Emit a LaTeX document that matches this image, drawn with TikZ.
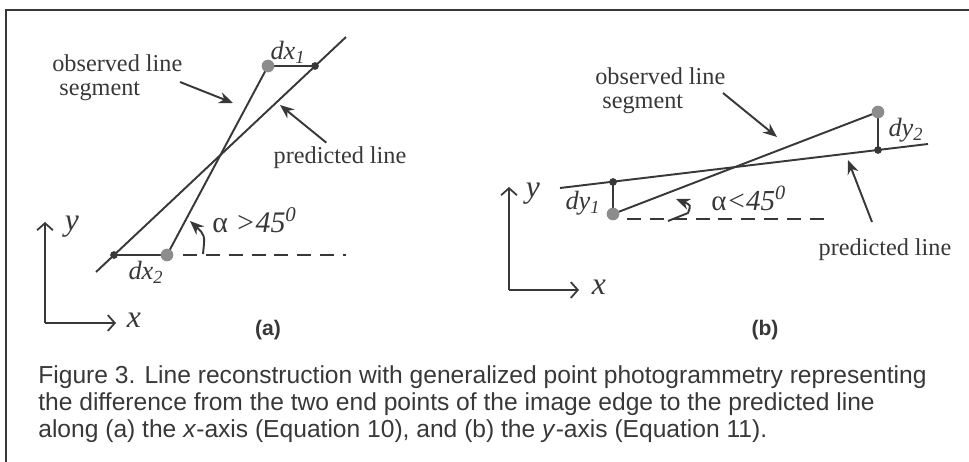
\documentclass[tikz,border=0pt]{standalone}
\usepackage{fontspec}
\setmainfont{Liberation Serif}
\setsansfont{Liberation Sans}
\usetikzlibrary{arrows.meta}
\definecolor{ink}{gray}{0.22}
\definecolor{dotgray}{gray}{0.55}

\begin{document}
\begin{tikzpicture}[
  x=0.02cm, y=-0.02cm,
  every node/.style={inner sep=0pt, text=ink},
  ln/.style={draw=ink, line width=1.1pt},
  arrow/.style={-{Stealth[length=8pt,width=6.5pt]}, draw=ink, line width=1.1pt},
  axis/.style={-{Straight Barb[length=4pt,width=9pt]}, draw=ink, line width=1pt},
  lbl/.style={font=\fontsize{13.8}{15.5}\selectfont, align=left},
  mlbl/.style={font=\fontsize{15}{17}\selectfont\itshape},
  axlbl/.style={font=\fontsize{18}{20}\selectfont\itshape},
  sub/.style={font=\bfseries\sffamily\fontsize{12}{14}\selectfont}
]
\useasboundingbox (0,0) rectangle (969,462);
% frame
\draw[ink, line width=1.2pt] (969,10) -- (6,10) -- (6,462);

% (a) along x
\coordinate (pa1) at (96,272);
\coordinate (pa2) at (346,37);
\coordinate (oa1) at (167,255);
\coordinate (oa2) at (268,66);
\coordinate (ka1) at (315,66);
\coordinate (ka2) at (114,255);
\draw[ln] (pa1) -- (pa2);
\draw[ln] (oa1) -- (oa2);
\draw[ln] (oa2) -- (ka1);
\draw[ln] (ka2) -- (oa1);
\draw[ink, line width=1.1pt, dashed, dash pattern=on 8pt off 5pt] (183,255) -- (346,255);
\fill[ink] (ka1) circle (2.2pt) (ka2) circle (2.2pt);
\fill[dotgray] (oa1) circle (3.6pt) (oa2) circle (3.6pt);
\node[mlbl] (dxa) at (288,52) {dx\textsubscript{1}};
\node[mlbl] (dxb) at (146,272) {dx\textsubscript{2}};
\node[lbl, anchor=west] (obsa) at (52,78) {observed line\\[-2pt]\hspace{4pt}segment};
\node[lbl] (preda) at (340,158) {predicted line};
\draw[arrow] (180,82) -- (233,103);
\draw[arrow] (preda.north west) ++(53,-4) -- (280,105);
\draw[arrow] (203,254) .. controls (205,235) .. (190,221);
\node[mlbl, font=\fontsize{17}{19}\selectfont\itshape, anchor=west] (anga) at (212,220) {\upshape α \itshape >45\textsuperscript{0}};
\coordinate (axa) at (45,323);
\draw[axis] (axa) -- (45,222);
\draw[axis] (axa) -- (116,323);
\node[axlbl] (ya) at (72,227) {y};
\node[axlbl] (xa) at (134,320) {x};
\node[sub] (suba) at (268,330) {(a)};

% (b) along y
\coordinate (pb1) at (560,188);
\coordinate (pb2) at (928,144);
\coordinate (ob1) at (613,214);
\coordinate (ob2) at (878,112);
\coordinate (kb1) at (613,182);
\coordinate (kb2) at (878,150);
\draw[ln] (pb1) -- (pb2);
\draw[ln] (ob1) -- (ob2);
\draw[ln] (kb1) -- (ob1);
\draw[ln] (ob2) -- (kb2);
\draw[ink, line width=1.1pt, dashed, dash pattern=on 8pt off 5pt] (627,219) -- (832,219);
\fill[ink] (kb1) circle (2.2pt) (kb2) circle (2.2pt);
\fill[dotgray] (ob1) circle (3.6pt) (ob2) circle (3.6pt);
\node[mlbl] (dya) at (583,203) {dy\textsubscript{1}};
\node[mlbl] (dyb) at (906,130) {dy\textsubscript{2}};
\node[lbl, anchor=west] (obsb) at (595,91) {observed line\\[-2pt]\hspace{4pt}segment};
\node[lbl] (predb) at (885,250) {predicted line};
\draw[arrow] (723,93) -- (777,137);
\draw[arrow] (872,222) -- (848,160);
\draw[arrow] (668,221) -- (688,213) .. controls (691,205) .. (676,199);
\node[mlbl, font=\fontsize{16.5}{19}\selectfont\itshape, anchor=west] (angb) at (711,198) {\upshape α\itshape <45\textsuperscript{0}};
\coordinate (axb) at (509,290);
\draw[axis] (axb) -- (509,187);
\draw[axis] (axb) -- (579,290);
\node[axlbl] (yb) at (533,194) {y};
\node[axlbl] (xb) at (599,287) {x};
\node[sub] (subb) at (765,330) {(b)};

% caption
\node[anchor=north west, align=left, font=\sffamily\fontsize{14}{15.4}\selectfont] (cap) at (38,365)
  {Figure 3. Line reconstruction with generalized point photogrammetry representing\\
   the difference from the two end points of the image edge to the predicted line\\
   along (a) the \textit{x}-axis (Equation 10), and (b) the \textit{y}-axis (Equation 11).};
\end{tikzpicture}
\end{document}
